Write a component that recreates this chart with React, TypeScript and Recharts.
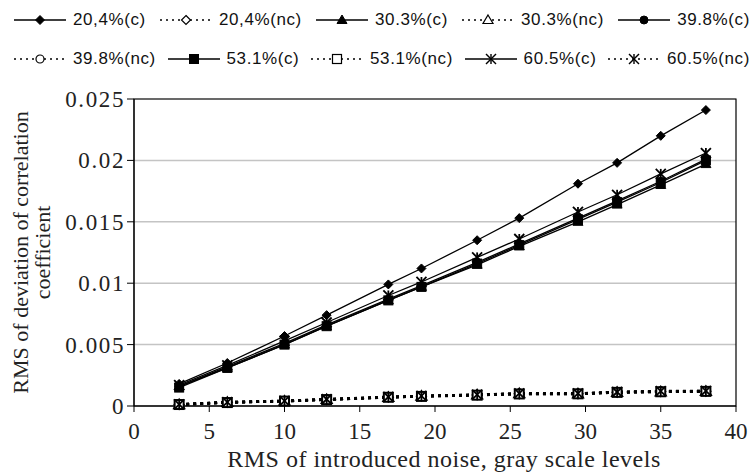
import {
  LineChart,
  Line,
  XAxis,
  YAxis,
  CartesianGrid,
  ReferenceArea,
} from "recharts";

// noise levels (x)
const noise = [3, 6.2, 10, 12.8, 16.9, 19.1, 22.8, 25.6, 29.5, 32.1, 35, 38];

// corrected (c) series
const c204 = [0.0018, 0.0035, 0.0057, 0.0074, 0.0099, 0.0112, 0.0135, 0.0153, 0.0181, 0.0198, 0.022, 0.0241];
const c303 = [0.0016, 0.0031, 0.005, 0.0065, 0.0086, 0.0097, 0.0115, 0.013, 0.015, 0.0164, 0.018, 0.0197];
const c398 = [0.0016, 0.0032, 0.0051, 0.0066, 0.0087, 0.0098, 0.0117, 0.0132, 0.0153, 0.0167, 0.0183, 0.0201];
const c531 = [0.0015, 0.0031, 0.005, 0.0065, 0.0086, 0.0097, 0.0116, 0.0131, 0.0152, 0.0166, 0.0182, 0.02];
const c605 = [0.0017, 0.0033, 0.0053, 0.0068, 0.009, 0.0101, 0.0121, 0.0136, 0.0158, 0.0172, 0.0189, 0.0206];

// not corrected (nc) series
const nc204 = [0.00012, 0.0003, 0.0004, 0.00053, 0.00072, 0.0008, 0.0009, 0.001, 0.001, 0.00112, 0.00118, 0.0012];
const nc303 = [0.00011, 0.00029, 0.00039, 0.00052, 0.0007, 0.00079, 0.00089, 0.00099, 0.00098, 0.0011, 0.00115, 0.00118];
const nc398 = [0.00013, 0.0003, 0.00041, 0.00054, 0.00073, 0.00081, 0.00091, 0.00101, 0.00101, 0.00113, 0.0012, 0.00121];
const nc531 = [0.00012, 0.00028, 0.0004, 0.00052, 0.00071, 0.00078, 0.00088, 0.00098, 0.00099, 0.00111, 0.00116, 0.00119];
const nc605 = [0.00013, 0.00031, 0.00042, 0.00055, 0.00074, 0.00082, 0.00092, 0.00102, 0.00102, 0.00114, 0.00121, 0.00123];

const xTicks = [0, 5, 10, 15, 20, 25, 30, 35, 40];
const yTicks = [0, 0.005, 0.01, 0.015, 0.02, 0.025];

const series = [
  { key: "c204", name: "20,4%(c)", values: c204, shape: "diamond", nc: false },
  { key: "nc204", name: "20,4%(nc)", values: nc204, shape: "diamond", nc: true },
  { key: "c303", name: "30.3%(c)", values: c303, shape: "triangle", nc: false },
  { key: "nc303", name: "30.3%(nc)", values: nc303, shape: "triangle", nc: true },
  { key: "c398", name: "39.8%(c)", values: c398, shape: "circle", nc: false },
  { key: "nc398", name: "39.8%(nc)", values: nc398, shape: "circle", nc: true },
  { key: "c531", name: "53.1%(c)", values: c531, shape: "square", nc: false },
  { key: "nc531", name: "53.1%(nc)", values: nc531, shape: "square", nc: true },
  { key: "c605", name: "60.5%(c)", values: c605, shape: "star", nc: false },
  { key: "nc605", name: "60.5%(nc)", values: nc605, shape: "star", nc: true },
];

const data = noise.map((x, i) => {
  const row: Record<string, number> = { x };
  series.forEach((s) => (row[s.key] = s.values[i]));
  return row;
});

const serif = "Liberation Serif, Times New Roman, serif";

const Marker = ({ cx, cy, shape, open, heavy }: { cx: number; cy: number; shape: string; open: boolean; heavy?: boolean }) => {
  const fill = open ? "#fff" : "#000";
  const sw = open ? (heavy ? 2 : 1.2) : 1;
  if (shape === "diamond") {
    const r = 4.5;
    return <path d={`M${cx},${cy - r}L${cx + r},${cy}L${cx},${cy + r}L${cx - r},${cy}Z`} fill={fill} stroke="#000" strokeWidth={sw} />;
  }
  if (shape === "triangle") {
    const r = 5;
    return <path d={`M${cx},${cy - r}L${cx + r},${cy + r * 0.7}L${cx - r},${cy + r * 0.7}Z`} fill={fill} stroke="#000" strokeWidth={sw} />;
  }
  if (shape === "circle") {
    return <circle cx={cx} cy={cy} r={4} fill={fill} stroke="#000" strokeWidth={sw} />;
  }
  if (shape === "square") {
    const r = 4.5;
    return <rect x={cx - r} y={cy - r} width={r * 2} height={r * 2} fill={fill} stroke="#000" strokeWidth={sw} />;
  }
  const r = 5;
  return (
    <g stroke="#000" strokeWidth={heavy ? 1.8 : 1.4}>
      <line x1={cx - r} y1={cy - r} x2={cx + r} y2={cy + r} />
      <line x1={cx - r} y1={cy + r} x2={cx + r} y2={cy - r} />
      <line x1={cx} y1={cy - r} x2={cx} y2={cy + r} />
    </g>
  );
};

const renderXTick = (p: any) => (
  <text key={`xt-${p.index}`} x={p.x} y={p.y + 25} textAnchor="middle" fontFamily={serif} fontSize={23} fill="#222">
    {p.payload.value}
  </text>
);

const renderYTick = (p: any) => (
  <text
    key={`yt-${p.index}`}
    x={p.x}
    y={p.y + 8}
    textAnchor="end"
    fontFamily={serif}
    fontSize={23}
    letterSpacing={1.6}
    fill="#222"
  >
    {p.payload.value}
  </text>
);

const YLabel = (props: any) => {
  const vb = props.viewBox || { x: 0, y: 99, height: 307 };
  const cy = vb.y + vb.height / 2;
  return (
    <text
      transform={`rotate(-90, 0, ${cy})`}
      x={0}
      y={cy}
      textAnchor="middle"
      fontFamily={serif}
      fontSize={22}
      fill="#222"
    >
      <tspan x={0} dy={28}>RMS of deviation of correlation</tspan>
      <tspan x={0} dy={22}>coefficient</tspan>
    </text>
  );
};

const LegendItem = ({ s }: { s: (typeof series)[number] }) => (
  <div style={{ display: "flex", alignItems: "center", whiteSpace: "nowrap" }}>
    <svg width={56} height={14}>
      <line
        x1={2}
        y1={7}
        x2={54}
        y2={7}
        stroke="#000"
        strokeWidth={1.5}
        strokeDasharray={s.nc ? "2 4" : undefined}
      />
      <Marker cx={28} cy={7} shape={s.shape} open={s.nc} />
    </svg>
    <span style={{ marginLeft: 5, letterSpacing: 0.6 }}>{s.name}</span>
  </div>
);

export default function App() {
  return (
    <div style={{ position: "absolute", left: 0, top: 0, width: 755, height: 474, background: "#fff" }}>
      <div
        style={{
          position: "absolute",
          left: 12,
          top: 0,
          width: 738,
          fontFamily: "Liberation Sans, Arial, sans-serif",
          fontSize: 17,
          color: "#111",
        }}
      >
        {[series.slice(0, 5), series.slice(5)].map((row, i) => (
          <div key={i} style={{ display: "flex", justifyContent: "space-between", height: 39, alignItems: "center" }}>
            {row.map((s) => (
              <LegendItem key={s.key} s={s} />
            ))}
          </div>
        ))}
      </div>
      <LineChart
        width={755}
        height={474}
        data={data}
        margin={{ top: 99, right: 19, bottom: 0, left: 0 }}
        style={{ position: "absolute", left: 0, top: 0 }}
      >
        <CartesianGrid horizontal vertical={false} stroke="#c4c4c4" strokeWidth={1.5} />
        <ReferenceArea x1={0} x2={40} y1={0} y2={0.025} fill="none" stroke="#000" strokeWidth={1.2} />
        <XAxis
          dataKey="x"
          type="number"
          domain={[0, 40]}
          ticks={xTicks}
          interval={0}
          tickSize={6}
          tickMargin={2}
          height={68}
          stroke="#000"
          tick={renderXTick}
          label={{
            value: "RMS of introduced noise, gray scale levels",
            position: "insideBottom",
            offset: 7,
            dx: 9,
            fill: "#222",
            fontFamily: serif,
            fontSize: 24,
            letterSpacing: 0.5,
          }}
        />
        <YAxis
          type="number"
          domain={[0, 0.025]}
          ticks={yTicks}
          interval={0}
          width={134}
          tickSize={7}
          tickMargin={2}
          stroke="#000"
          tick={renderYTick}
          label={<YLabel />}
        />
        {series.map((s) => (
          <Line
            key={s.key}
            dataKey={s.key}
            name={s.name}
            stroke="#000"
            strokeWidth={s.nc ? 2.6 : 1.3}
            strokeDasharray={s.nc ? "3 4" : undefined}
            dot={(p: any) => (
              <Marker key={`${s.key}-${p.index}`} cx={p.cx} cy={p.cy} shape={s.shape} open={s.nc} heavy />
            )}
            isAnimationActive={false}
          />
        ))}
      </LineChart>
    </div>
  );
}
